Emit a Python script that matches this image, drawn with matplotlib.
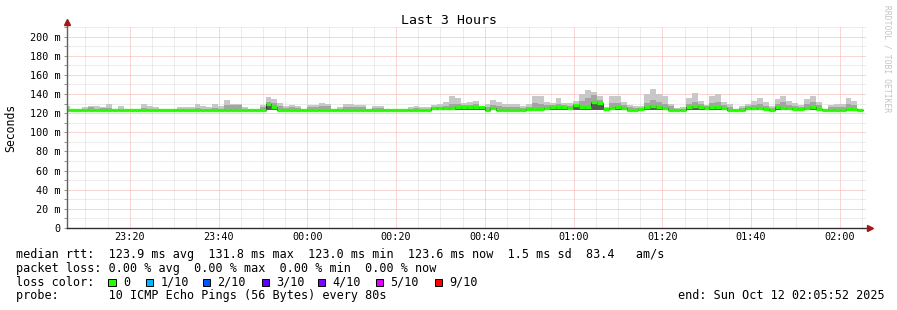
import numpy as np
import matplotlib
matplotlib.use("Agg")
import matplotlib.pyplot as plt
from matplotlib.patches import Rectangle
from matplotlib.ticker import MultipleLocator, FuncFormatter

W, H = 897, 310
MONO = "DejaVu Sans Mono"
plt.rcParams["font.family"] = [MONO]

# time axis in minutes after midnight (Oct 11), 80 s steps
start = 23 * 60 + 5 + 52 / 60.0
end = start + 180
step = 80 / 60.0
first_edge = start + 44 / 60.0

# smoke: max ping, upper-inner ping, median, min ping (ms)
rtt_max = [
    127.5, 124.5, 124.5, 126, 127.5, 127, 126, 130, 124.5, 127,
    124.5, 124.5, 124.5, 129.5, 127.5, 126, 124.5, 124.5, 124.5, 126,
    126, 126, 130, 127.5, 126.5, 129.5, 127.5, 134, 129.5, 129.5,
    126, 124.5, 124.5, 128.5, 136.5, 135, 131, 127, 128.5, 127,
    124.5, 128.5, 129, 131, 130, 124.5, 126, 130, 130, 128.5,
    128.5, 124.5, 127.5, 127.5, 124.5, 124.5, 124.5, 124.5, 126, 127.5,
    126, 126, 128, 129.5, 132, 138, 135.5, 130.5, 131.5, 133,
    127, 129.5, 134, 132, 130, 130, 130, 127, 129.5, 138,
    137.5, 132, 131, 136, 131, 131, 133, 140, 144.5, 142.5,
    137.5, 126, 137.5, 137.5, 132, 128.5, 127, 127.5, 139.5, 145,
    139.5, 137.5, 130, 125, 126, 135.5, 141, 133, 128.5, 137.5,
    140, 131.5, 130, 124.5, 127, 130, 133, 136, 131.5, 127.5,
    135, 137.5, 133, 131, 128.5, 135, 138, 132, 124.5, 129,
    130, 130, 136, 133, 124.5,
]
rtt_hi = [
    124.5, 123.8, 123.8, 124.5, 126, 124.5, 125.5, 125, 123.8, 124.5,
    123.8, 123.8, 123.8, 125, 124.5, 124, 123.8, 123.8, 123.8, 124.5,
    124.5, 124.5, 125, 124.5, 124.5, 125, 124.5, 128, 128, 128,
    124.5, 123.8, 123.8, 126, 132, 131, 127, 125, 126, 125,
    123.8, 126.5, 126.5, 127, 127, 123.8, 124.5, 126, 126, 126,
    126, 123.8, 125.5, 125.5, 123.8, 123.8, 123.8, 123.8, 124.5, 125,
    124.5, 124.5, 126, 126.5, 127.5, 130, 129.5, 128.5, 128.5, 129.5,
    126, 126, 128, 127, 126, 126, 126, 125, 126.5, 131,
    130, 129, 128.5, 130, 128.5, 127.5, 130, 133, 136, 139,
    134, 124.5, 131, 131, 128, 126, 125, 125.5, 131, 134,
    132, 130, 127, 124, 124.5, 130, 132, 129.5, 127, 130.5,
    132, 128, 126.5, 123.8, 125, 127.5, 128.5, 130, 127.5, 125,
    130, 131.5, 129, 127.5, 126.5, 129.5, 131.5, 128, 123.8, 126,
    126.5, 126.5, 130, 129, 123.8,
]
rtt_median = [
    123.2, 123.2, 123.2, 123.2, 123.2, 123.2, 123.2, 123.2, 123.2, 123.2,
    123.2, 123.2, 123.2, 123.2, 123.2, 123.2, 123.2, 123.2, 123.2, 123.2,
    123.2, 123.2, 123.2, 123.2, 123.2, 123.2, 123.2, 123.2, 123.2, 123.2,
    123.2, 123.2, 123.2, 123.2, 129.1, 126.3, 123.2, 123.2, 123.2, 123.2,
    123.4, 123.4, 123.4, 123.4, 123.4, 123.4, 123.4, 123.4, 123.4, 123.4,
    123.4, 123.4, 123.4, 123.4, 123.4, 123.2, 123.2, 123.2, 123.2, 123.2,
    123.4, 123.4, 124.9, 124.9, 124.9, 124.9, 126.0, 126.0, 126.0, 126.0,
    126.0, 123.5, 124.9, 123.5, 123.2, 123.2, 123.2, 123.6, 124.2, 124.2,
    124.5, 125.7, 126.7, 126.7, 126.0, 124.9, 128.1, 126.3, 126.3, 131.6,
    130.2, 123.9, 125.0, 126.3, 124.9, 123.6, 123.6, 124.2, 126.7, 127.0,
    126.7, 125.7, 123.6, 123.6, 123.6, 126.7, 127.0, 126.3, 124.9, 126.7,
    126.7, 125.3, 123.6, 123.6, 123.6, 125.7, 124.9, 125.7, 124.2, 123.6,
    126.7, 125.7, 124.9, 124.2, 123.9, 125.7, 126.3, 124.2, 123.2, 123.2,
    123.2, 123.2, 124.2, 124.2, 123.6,
]
rtt_min = [
    122.8, 122.8, 122.8, 122.8, 122.8, 122.8, 122.8, 122.8, 122.8, 122.8,
    122.8, 122.8, 122.8, 122.8, 122.8, 122.8, 122.8, 122.8, 122.8, 122.8,
    122.8, 122.8, 122.8, 122.8, 122.8, 122.8, 122.8, 122.8, 122.8, 122.8,
    122.8, 122.8, 122.8, 122.8, 123.0, 123.0, 122.8, 122.8, 122.8, 122.8,
    122.8, 122.8, 122.8, 122.8, 122.8, 122.8, 122.8, 122.8, 122.8, 122.8,
    122.8, 122.8, 122.8, 122.8, 122.8, 122.8, 122.8, 122.8, 122.8, 122.8,
    122.8, 122.8, 122.8, 122.8, 122.8, 122.8, 122.8, 122.8, 122.8, 122.8,
    122.8, 122.8, 122.8, 122.8, 122.8, 122.8, 122.8, 122.8, 122.8, 122.8,
    122.8, 122.8, 122.8, 122.8, 122.8, 122.8, 122.8, 122.8, 122.8, 123.0,
    123.0, 122.8, 122.8, 122.8, 122.8, 122.8, 122.8, 122.8, 122.8, 122.8,
    122.8, 122.8, 122.8, 122.8, 122.8, 122.8, 122.8, 122.8, 122.8, 122.8,
    122.8, 122.8, 122.8, 122.8, 122.8, 122.8, 122.8, 122.8, 122.8, 122.8,
    122.8, 122.8, 122.8, 122.8, 122.8, 122.8, 122.8, 122.8, 122.8, 122.8,
    122.8, 122.8, 122.8, 122.8, 122.8,
]

loss_labels = ["0", "1/10", "2/10", "3/10", "4/10", "5/10", "9/10"]
loss_colors = ["#26ff00", "#00b8ff", "#0059ff", "#5e00ff", "#7e00ff", "#dd00ff", "#ff0000"]

stats_line = "median rtt:  123.9 ms avg  131.8 ms max  123.0 ms min  123.6 ms now  1.5 ms sd  83.4   am/s"
loss_line = "packet loss: 0.00 % avg  0.00 % max  0.00 % min  0.00 % now"
probe_line = "probe:       10 ICMP Echo Pings (56 Bytes) every 80s"
end_line = "end: Sun Oct 12 02:05:52 2025"

n = len(rtt_median)
edges = np.concatenate([[start], first_edge + step * np.arange(n)])


def ext(a):
    return np.append(a, a[-1])


fig = plt.figure(figsize=(W / 100, H / 100), dpi=100)
L, R, T, B = 67, 866, 27, 228
ax = fig.add_axes([L / W, 1 - B / H, (R - L) / W, (B - T) / H])

ax.fill_between(edges, ext(rtt_min), ext(rtt_max), step="post", color="#c8c8c8", lw=0, zorder=2)
ax.fill_between(edges, ext(rtt_min), ext(rtt_hi), step="post", color="#a4a4a4", lw=0, zorder=3)
ax.fill_between(edges, ext(rtt_min), ext(rtt_median), step="post", color="#585858", lw=0, zorder=4)
ax.step(edges, ext(rtt_median), where="post", color="#202020", lw=0.6, zorder=5)
med = ax.hlines(rtt_median, edges[:-1], edges[1:], colors=loss_colors[0], lw=2.4, zorder=6)
med.set_capstyle("butt")

ax.set_xlim(start, end)
ax.set_ylim(0, 210)

ax.xaxis.set_major_locator(MultipleLocator(20))
ax.xaxis.set_minor_locator(MultipleLocator(5))
ax.yaxis.set_major_locator(MultipleLocator(20))
ax.yaxis.set_minor_locator(MultipleLocator(10))
ax.xaxis.set_major_formatter(FuncFormatter(lambda v, p: "%02d:%02d" % ((int(round(v)) // 60) % 24, int(round(v)) % 60)))
ax.yaxis.set_major_formatter(FuncFormatter(lambda v, p: "0" if v == 0 else "%d m" % v))

ax.set_axisbelow(True)
ax.grid(which="minor", color="#dadada", ls=(0, (1, 1)), lw=0.72)
ax.grid(which="major", color="#f6b0b0", ls=(0, (1, 1)), lw=0.72)

for s in ax.spines.values():
    s.set_visible(False)
ax.tick_params(axis="y", which="both", direction="out", length=2.2, width=0.7, color="#909090",
               labelsize=7.3, pad=2.5)
ax.tick_params(axis="x", which="both", length=0, labelsize=7.3, pad=3)

# axes with arrows
ax.plot([0, 0], [0, 1 + 5 / (B - T)], color="#606060", lw=1, transform=ax.transAxes, clip_on=False, zorder=7)
ax.plot([0, 1 + 4 / (R - L)], [0, 0], color="#303030", lw=1, transform=ax.transAxes, clip_on=False, zorder=7)
ax.plot([0], [1 + 5 / (B - T)], marker="^", ms=4, color="#a01818", transform=ax.transAxes, clip_on=False, zorder=8)
ax.plot([1 + 4 / (R - L)], [0], marker=">", ms=4, color="#a01818", transform=ax.transAxes, clip_on=False, zorder=8)

fig.text(448.5 / W, 1 - 20 / H, "Last 3 Hours", ha="center", va="center", fontsize=9.5)
fig.text(11 / W, 1 - 127.5 / H, "Seconds", rotation=90, ha="center", va="center", fontsize=8.3)
fig.text(887 / W, 1 - 59 / H, "RRDTOOL / TOBI OETIKER", rotation=270, ha="center", va="center",
         fontsize=5.8, color="#c4c4c4")

fs = 8.5
fig.text(16 / W, 1 - 258.3 / H, stats_line, ha="left", va="baseline", fontsize=fs)
fig.text(16 / W, 1 - 272 / H, loss_line, ha="left", va="baseline", fontsize=fs)
fig.text(16 / W, 1 - 285.7 / H, "loss color:", ha="left", va="baseline", fontsize=fs)
fig.text(16 / W, 1 - 299.4 / H, probe_line, ha="left", va="baseline", fontsize=fs)
fig.text(678 / W, 1 - 299.4 / H, end_line, ha="left", va="baseline", fontsize=fs)

box_x = [108.3, 145.7, 202.7, 261.7, 318, 376, 435]
for bx, lab, col in zip(box_x, loss_labels, loss_colors):
    fig.add_artist(Rectangle((bx / W, 1 - 286.3 / H), 7.4 / W, 7 / H, transform=fig.transFigure,
                             facecolor=col, edgecolor="black", lw=0.7))
    fig.text((bx + 14.5) / W, 1 - 285.7 / H, lab, ha="left", va="baseline", fontsize=fs)

fig.savefig("out.png", dpi=100)
